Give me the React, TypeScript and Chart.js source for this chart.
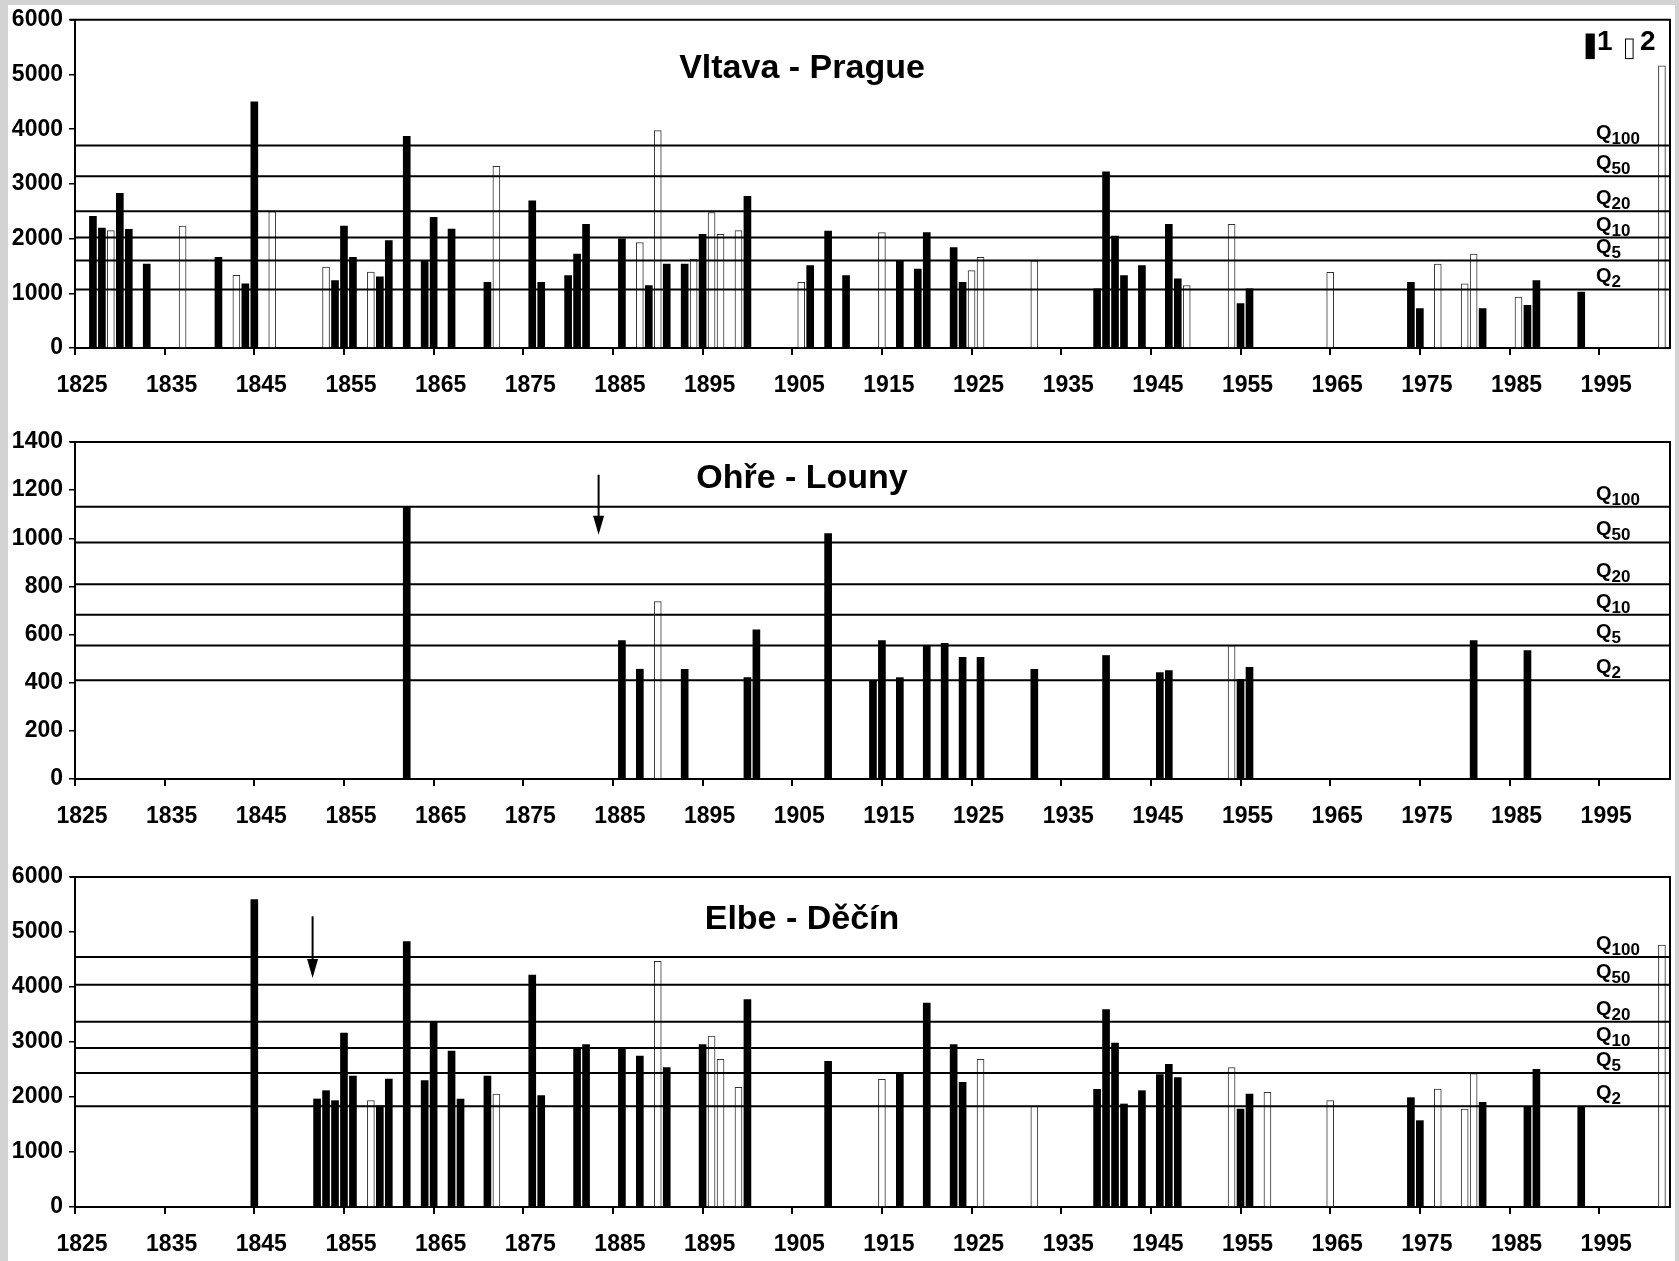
import React, { useEffect, useRef } from "react";
import { Chart, registerables } from "chart.js";

Chart.register(...registerables);

const FONT = '"Liberation Sans", Arial, Helvetica, sans-serif';

// ---------- shared axis data ----------
const decadeLabels = [1825, 1835, 1845, 1855, 1865, 1875, 1885, 1895, 1905, 1915, 1925, 1935, 1945, 1955, 1965, 1975, 1985, 1995];
const qNames = ["2", "5", "10", "20", "50", "100"];
const legendLabels = ["1", "2"];

// ---------- Vltava - Prague ----------
const vltavaTicks = [0, 1000, 2000, 3000, 4000, 5000, 6000];
const vltavaYears1 = [1827, 1828, 1830, 1831, 1833, 1841, 1844, 1845, 1854, 1855, 1856, 1859, 1860, 1862, 1864, 1865, 1867, 1871, 1876, 1877, 1880, 1881, 1882, 1886, 1889, 1891, 1893, 1895, 1900, 1907, 1909, 1911, 1917, 1919, 1920, 1923, 1924, 1939, 1940, 1941, 1942, 1944, 1947, 1948, 1955, 1956, 1974, 1975, 1982, 1987, 1988, 1993];
const vltavaValues1 = [2405, 2193, 2828, 2169, 1535, 1656, 1172, 4500, 1233, 2230, 1656, 1299, 1964, 3870, 1601, 2387, 2175, 1202, 2689, 1202, 1323, 1716, 2260, 1994, 1142, 1535, 1535, 2079, 2773, 1505, 2139, 1323, 1595, 1444, 2109, 1837, 1202, 1080, 3221, 2048, 1323, 1505, 2260, 1263, 810, 1082, 1202, 719, 719, 779, 1233, 1021];
const vltavaYears2 = [1829, 1837, 1843, 1847, 1853, 1858, 1872, 1888, 1890, 1894, 1896, 1897, 1899, 1906, 1915, 1925, 1926, 1932, 1949, 1954, 1965, 1977, 1980, 1981, 1986, 2002];
const vltavaValues2 = [2145, 2230, 1329, 2495, 1480, 1390, 3323, 1927, 3975, 1625, 2477, 2079, 2145, 1202, 2109, 1414, 1656, 1595, 1142, 2260, 1384, 1535, 1172, 1716, 931, 5160];
const vltavaQ = [1070, 1600, 2020, 2500, 3140, 3700];

// ---------- Ohře - Louny ----------
const ohreTicks = [0, 200, 400, 600, 800, 1000, 1200, 1400];
const ohreYears1 = [1862, 1886, 1888, 1893, 1900, 1901, 1909, 1914, 1915, 1917, 1920, 1922, 1924, 1926, 1932, 1940, 1946, 1947, 1955, 1956, 1981, 1987];
const ohreValues1 = [1130, 575, 456, 456, 421, 620, 1020, 407, 575, 421, 554, 564, 505, 505, 456, 513, 442, 450, 414, 464, 575, 534];
const ohreYears2 = [1890, 1954];
const ohreValues2 = [737, 554];
const ohreQ = [410, 555, 682, 809, 983, 1131];
const ohreArrow = [1883.4, 1264, 1015]; // year, from value, to value

// ---------- Elbe - Děčín ----------
const elbeTicks = [0, 1000, 2000, 3000, 4000, 5000, 6000];
const elbeYears1 = [1845, 1852, 1853, 1854, 1855, 1856, 1859, 1860, 1862, 1864, 1865, 1867, 1868, 1871, 1876, 1877, 1881, 1882, 1886, 1888, 1891, 1895, 1900, 1909, 1917, 1920, 1923, 1924, 1939, 1940, 1941, 1942, 1944, 1946, 1947, 1948, 1955, 1956, 1974, 1975, 1982, 1987, 1988, 1993];
const elbeValues1 = [5590, 1964, 2115, 1933, 3164, 2382, 1842, 2327, 4824, 2297, 3370, 2836, 1964, 2382, 4218, 2024, 2873, 2952, 2891, 2745, 2533, 2952, 3770, 2648, 2436, 3709, 2952, 2267, 2139, 3588, 2982, 1873, 2115, 2406, 2594, 2352, 1782, 2055, 1988, 1570, 1903, 1812, 2503, 1812];
const elbeYears2 = [1858, 1872, 1890, 1896, 1897, 1899, 1915, 1926, 1932, 1954, 1958, 1965, 1977, 1980, 1981, 2002];
const elbeValues2 = [1933, 2055, 4467, 3109, 2685, 2176, 2321, 2685, 1830, 2533, 2085, 1933, 2145, 1782, 2424, 4760];
const elbeQ = [1830, 2436, 2891, 3370, 4042, 4545];
const elbeArrow = [1851.5, 5285, 4164];

// ---------- layout (pixels) ----------
type Panel = {
  key: string;
  title: string;
  top: number;
  height: number;
  padTop: number;
  xAxisH: number;
  titleDy: number;
  yMax: number;
  yTicks: number[];
  years1: number[];
  values1: number[];
  years2: number[];
  values2: number[];
  q: number[];
  arrow: number[] | null;
  legend: boolean;
};

const panels: Panel[] = [
  { key: "vltava", title: "Vltava - Prague", top: 0, height: 420, padTop: 18, xAxisH: 72, titleDy: 58, yMax: 6000, yTicks: vltavaTicks, years1: vltavaYears1, values1: vltavaValues1, years2: vltavaYears2, values2: vltavaValues2, q: vltavaQ, arrow: null, legend: true },
  { key: "ohre", title: "Ohře - Louny", top: 420, height: 430, padTop: 22, xAxisH: 71, titleDy: 46, yMax: 1400, yTicks: ohreTicks, years1: ohreYears1, values1: ohreValues1, years2: ohreYears2, values2: ohreValues2, q: ohreQ, arrow: ohreArrow, legend: false },
  { key: "elbe", title: "Elbe - Děčín", top: 850, height: 411, padTop: 27, xAxisH: 54, titleDy: 52, yMax: 6000, yTicks: elbeTicks, years1: elbeYears1, values1: elbeValues1, years2: elbeYears2, values2: elbeValues2, q: elbeQ, arrow: elbeArrow, legend: false },
];

const X_MIN = 1825;
const X_MAX = 2002.9;

function makeDecor(cfg: Panel) {
  return {
    id: "decor_" + cfg.key,
    afterDraw(chart: any) {
      const { ctx, chartArea: a } = chart;
      const xs = chart.scales.x;
      const ys = chart.scales.y;
      ctx.save();
      // frame: top and right
      ctx.strokeStyle = "#000";
      ctx.lineWidth = 2;
      ctx.beginPath();
      ctx.moveTo(a.left - 5, a.top);
      ctx.lineTo(a.right, a.top);
      ctx.lineTo(a.right, a.bottom);
      ctx.stroke();

      // title
      ctx.fillStyle = "#000";
      ctx.font = `bold 34px ${FONT}`;
      ctx.textAlign = "center";
      ctx.textBaseline = "alphabetic";
      ctx.fillText(cfg.title, 802, a.top + cfg.titleDy);

      // return-period labels
      ctx.textAlign = "left";
      cfg.q.forEach((v, i) => {
        const py = ys.getPixelForValue(v);
        const lx = a.right - 74;
        ctx.font = `bold 20px ${FONT}`;
        ctx.fillText("Q", lx, py - 7);
        const w = ctx.measureText("Q").width;
        ctx.font = `bold 17px ${FONT}`;
        ctx.fillText(qNames[i], lx + w, py - 2);
      });

      // arrow
      if (cfg.arrow) {
        const [yr, from, to] = cfg.arrow;
        const px = xs.getPixelForValue(yr);
        const y0 = ys.getPixelForValue(from);
        const y1 = ys.getPixelForValue(to);
        ctx.lineWidth = 2;
        ctx.beginPath();
        ctx.moveTo(px, y0);
        ctx.lineTo(px, y1 - 17);
        ctx.stroke();
        ctx.beginPath();
        ctx.moveTo(px - 5.5, y1 - 19);
        ctx.lineTo(px + 5.5, y1 - 19);
        ctx.lineTo(px, y1);
        ctx.closePath();
        ctx.fill();
      }

      // legend
      if (cfg.legend) {
        ctx.fillStyle = "#000";
        ctx.fillRect(a.right - 84.4, a.top + 13.7, 9.2, 25.6);
        ctx.font = `bold 28px ${FONT}`;
        ctx.fillText(legendLabels[0], a.right - 73, a.top + 30);
        ctx.fillStyle = "#fff";
        ctx.fillRect(a.right - 45, a.top + 18.7, 8.6, 20.6);
        ctx.strokeStyle = "#000";
        ctx.lineWidth = 1;
        ctx.strokeRect(a.right - 44.5, a.top + 19.2, 7.6, 19.6);
        ctx.fillStyle = "#000";
        ctx.fillText(legendLabels[1], a.right - 30, a.top + 30);
      }
      ctx.restore();
    },
  };
}

function PanelChart({ cfg }: { cfg: Panel }) {
  const ref = useRef<HTMLCanvasElement | null>(null);
  useEffect(() => {
    if (!ref.current) return;
    const qDatasets = cfg.q.map((v) => ({
      type: "line" as const,
      data: [
        { x: X_MIN, y: v },
        { x: X_MAX, y: v },
      ],
      borderColor: "#000",
      borderWidth: 2,
      pointRadius: 0,
      fill: false,
      order: 0,
    }));
    const chart = new Chart(ref.current, {
      type: "bar",
      data: {
        datasets: [
          {
            type: "bar",
            label: legendLabels[0],
            data: cfg.years1.map((yr, i) => ({ x: yr, y: cfg.values1[i] })),
            backgroundColor: "#000",
            borderWidth: 0,
            barThickness: 7,
            grouped: false,
            order: 2,
          } as any,
          {
            type: "bar",
            label: legendLabels[1],
            data: cfg.years2.map((yr, i) => ({ x: yr, y: cfg.values2[i] })),
            backgroundColor: "#fff",
            borderColor: "#333",
            borderWidth: 1,
            barThickness: 7,
            grouped: false,
            order: 2,
          } as any,
          ...(qDatasets as any[]),
        ],
      },
      options: {
        responsive: false,
        animation: false,
        devicePixelRatio: 1,
        events: [],
        layout: { padding: { top: cfg.padTop, right: 9, left: 0, bottom: 0 } },
        plugins: {
          legend: { display: false },
          tooltip: { enabled: false },
          title: { display: false },
        },
        scales: {
          x: {
            type: "linear",
            min: X_MIN,
            max: X_MAX,
            offset: false,
            bounds: "data",
            grid: {
              display: true,
              drawOnChartArea: false,
              drawTicks: true,
              tickLength: 7,
              color: "#000",
              lineWidth: 2,
              offset: false,
            },
            border: { display: true, color: "#000", width: 2 },
            ticks: {
              color: "#000",
              font: { family: FONT, size: 23, weight: "bold" },
              padding: 17,
              labelOffset: 7,
              maxRotation: 0,
              minRotation: 0,
              autoSkip: false,
              callback: (v: any) => String(v),
            },
            afterBuildTicks: (s: any) => {
              s.ticks = decadeLabels.map((v) => ({ value: v }));
            },
            afterFit: (s: any) => {
              s.height = cfg.xAxisH;
            },
          },
          y: {
            type: "linear",
            min: 0,
            max: cfg.yMax,
            grid: {
              display: true,
              drawOnChartArea: false,
              drawTicks: true,
              tickLength: 6,
              color: "#000",
              lineWidth: 1.5,
            },
            border: { display: true, color: "#000", width: 2 },
            ticks: {
              color: "#000",
              font: { family: FONT, size: 23, weight: "bold" },
              padding: 6,
              callback: (v: any) => String(v),
            },
            afterBuildTicks: (s: any) => {
              s.ticks = cfg.yTicks.map((v) => ({ value: v }));
            },
            afterFit: (s: any) => {
              s.width = 75;
            },
          },
        },
      } as any,
      plugins: [makeDecor(cfg)],
    });
    return () => chart.destroy();
  }, [cfg]);
  return (
    <canvas
      ref={ref}
      width={1679}
      height={cfg.height}
      style={{ position: "absolute", left: 0, top: cfg.top, width: 1679, height: cfg.height }}
    />
  );
}

export default function App() {
  return (
    <div
      style={{
        position: "absolute",
        left: 0,
        top: 0,
        width: 1679,
        height: 1261,
        overflow: "hidden",
        background: "#d3d3d3",
      }}
    >
      <div style={{ position: "absolute", left: 8, top: 5, width: 1667, height: 1256, background: "#fff" }} />
      {panels.map((p) => (
        <PanelChart key={p.key} cfg={p} />
      ))}
    </div>
  );
}
